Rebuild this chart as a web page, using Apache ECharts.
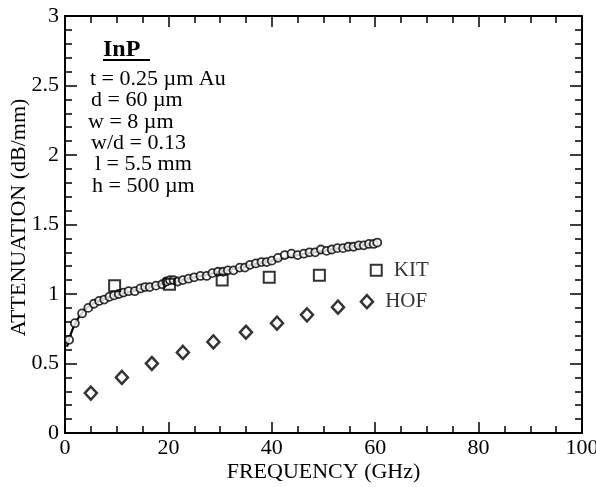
<!DOCTYPE html>
<html>
<head>
<meta charset="utf-8">
<script src="https://cdn.jsdelivr.net/npm/echarts@6/dist/echarts.min.js"></script>
<style>html,body{margin:0;padding:0;background:#fff}#c{width:596px;height:487px}</style>
</head>
<body>
<div id="c"></div>
<script>
// Measured attenuation (circles)
const measFreq = [0.8,1.9,3.3,4.5,5.6,6.6,7.6,8.6,9.5,10.4,11.3,12.3,13.5,14.6,15.5,16.4,17.6,18.8,19.6,20.3,21.0,21.8,22.8,23.9,25.0,26.2,27.4,28.5,29.6,30.6,31.5,32.6,33.8,34.8,35.8,36.9,38.0,39.0,40.0,41.2,42.5,43.8,45.0,46.2,47.3,48.4,49.5,50.6,51.6,52.7,53.8,54.8,55.8,56.8,57.8,58.8,59.7,60.4];
const measAtt  = [0.67,0.79,0.86,0.90,0.93,0.95,0.96,0.98,0.99,1.00,1.01,1.02,1.02,1.04,1.05,1.05,1.06,1.07,1.09,1.10,1.10,1.09,1.10,1.11,1.12,1.13,1.13,1.15,1.16,1.16,1.17,1.17,1.19,1.19,1.21,1.22,1.23,1.23,1.24,1.26,1.28,1.29,1.28,1.29,1.30,1.30,1.32,1.31,1.32,1.33,1.33,1.34,1.34,1.35,1.35,1.36,1.36,1.37];
// Fitted curve (solid line)
const fitFreq = [0.4,1,2,3,4,5,6,8,10,12,15,20,25,30,35,40,45,50,55,60];
const fitAtt  = [0.62,0.70,0.79,0.85,0.89,0.92,0.94,0.97,0.99,1.01,1.04,1.08,1.12,1.16,1.20,1.24,1.28,1.31,1.34,1.365];
// KIT (squares)
const kitFreq = [9.6,20.2,30.4,39.5,49.2,60.2];
const kitAtt  = [1.06,1.07,1.10,1.12,1.135,1.17];
// HOF (diamonds)
const hofFreq = [5.0,11.0,16.8,22.8,28.7,35.0,41.0,46.8,52.8,58.4];
const hofAtt  = [0.287,0.40,0.50,0.58,0.655,0.725,0.79,0.85,0.905,0.945];
// Axis ticks
const xTicks = [0,20,40,60,80,100];
const yTicks = [0,0.5,1,1.5,2,2.5,3];
const insetTitle = 'InP';
const insetLines = ['t = 0.25 \u00b5m Au','d = 60 \u00b5m','w = 8 \u00b5m','w/d = 0.13','l = 5.5 mm','h = 500 \u00b5m'];

const FONT = '"Liberation Serif", "DejaVu Serif", serif';
const zip = (a,b) => a.map((v,i)=>[v,b[i]]);
function withLastLabel(pts, text){
  return pts.map((p,i)=> i===pts.length-1 ? {value:p, label:{show:true, formatter:text, position:'right', distance:11, color:'#000', fontFamily:FONT, fontSize:21}} : p);
}
const axisCommon = {
  min:0, axisLine:{show:true, onZero:false, lineStyle:{color:'#000', width:2}},
  axisTick:{show:true, inside:true, lineStyle:{color:'#000', width:1.5}},
  minorTick:{show:true, lineStyle:{color:'#000', width:1.5}},
  splitLine:{show:false}
};
const chart = echarts.init(document.getElementById('c'));
const insetX = [90,91,88,91,95,92];
const graphics = [
  {type:'text', left:103, top:38, style:{text:insetTitle, font:'bold 24px '+FONT, fill:'#000'}},
  {type:'rect', shape:{x:103, y:59, width:47, height:2}, style:{fill:'#000'}}
];
insetLines.forEach((t,i)=>{
  graphics.push({type:'text', x:insetX[i], y:79 + i*21.4, style:{text:t, font:'22px '+FONT, fill:'#000', textVerticalAlign:'middle'}});
});
chart.setOption({
  animation:false,
  backgroundColor:'#fff',
  grid:{left:65, right:14, top:16, bottom:54, outerBoundsMode:'none', containLabel:false},
  xAxis:[
    Object.assign({}, axisCommon, {type:'value', max:100, interval:20, position:'bottom',
      axisTick:Object.assign({}, axisCommon.axisTick, {length:11}),
      minorTick:Object.assign({}, axisCommon.minorTick, {splitNumber:4, length:7}),
      axisLabel:{color:'#000', fontFamily:FONT, fontSize:22, margin:4, formatter:v=>xTicks.includes(v)?String(v):''},
      name:'FREQUENCY (GHz)', nameLocation:'middle', nameGap:28, nameMoveOverlap:false,
      nameTextStyle:{color:'#000', fontFamily:FONT, fontSize:22}}),
    Object.assign({}, axisCommon, {type:'value', max:100, interval:20, position:'top',
      axisTick:Object.assign({}, axisCommon.axisTick, {length:11}),
      minorTick:Object.assign({}, axisCommon.minorTick, {splitNumber:4, length:7}),
      axisLabel:{show:false}})
  ],
  yAxis:[
    Object.assign({}, axisCommon, {type:'value', max:3, interval:0.5, position:'left',
      axisTick:Object.assign({}, axisCommon.axisTick, {length:12}),
      minorTick:Object.assign({}, axisCommon.minorTick, {splitNumber:5, length:7}),
      axisLabel:{color:'#000', fontFamily:FONT, fontSize:22, margin:6, formatter:v=>yTicks.includes(v)?String(v):''},
      name:'ATTENUATION (dB/mm)', nameLocation:'middle', nameGap:35, nameMoveOverlap:false,
      nameTextStyle:{color:'#000', fontFamily:FONT, fontSize:22, padding:[0,0,0,14]}}),
    Object.assign({}, axisCommon, {type:'value', max:3, interval:0.5, position:'right',
      axisTick:Object.assign({}, axisCommon.axisTick, {length:12}),
      minorTick:Object.assign({}, axisCommon.minorTick, {splitNumber:5, length:7}),
      axisLabel:{show:false}})
  ],
  graphic:graphics,
  series:[
    {type:'line', data:zip(fitFreq, fitAtt), smooth:true, showSymbol:false, lineStyle:{color:'#000', width:2.2}, z:2},
    {type:'scatter', data:zip(measFreq, measAtt), symbol:'circle', symbolSize:8,
      itemStyle:{color:'#fff', borderColor:'#000', borderWidth:1.8}, z:3},
    {type:'scatter', data:withLastLabel(zip(kitFreq, kitAtt),'KIT'), symbol:'rect', symbolSize:11,
      itemStyle:{color:'rgba(255,255,255,0)', borderColor:'#000', borderWidth:2}, z:4},
    {type:'scatter', data:withLastLabel(zip(hofFreq, hofAtt),'HOF'), symbol:'diamond', symbolSize:[12,13],
      itemStyle:{color:'#fff', borderColor:'#000', borderWidth:2.5}, z:4}
  ]
});
</script>
</body>
</html>
